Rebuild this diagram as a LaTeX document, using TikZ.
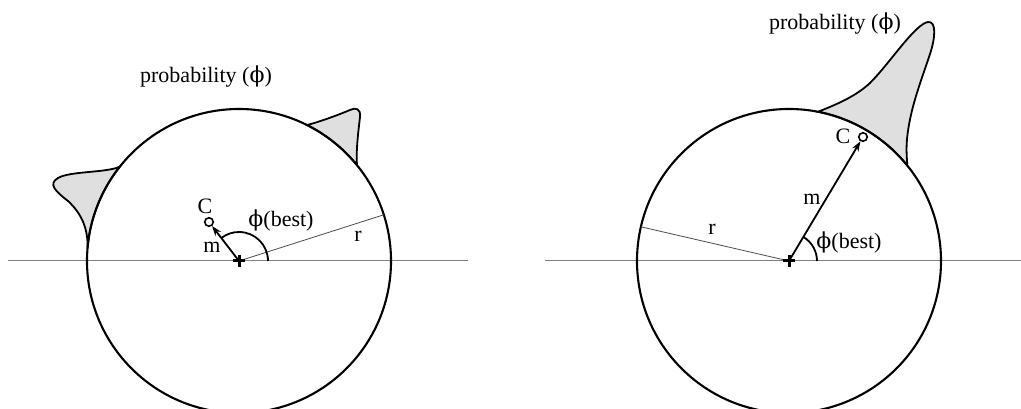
\documentclass[tikz,border=0pt]{standalone}
\usepackage{fontspec}
\setmainfont{Liberation Serif}
\newfontfamily\greekfont{DejaVu Serif}
\usetikzlibrary{arrows.meta,calc}
\newcommand{\phisym}{{\greekfont ϕ}}

\begin{document}
\begin{tikzpicture}[x=1pt, y=1pt, font=\fontsize{22}{26}\selectfont,
  >={Stealth[length=10pt,width=7pt]},
  rim/.style={line width=2.1pt},
  axisline/.style={gray, line width=1pt},
  radline/.style={black!70, line width=0.8pt},
  blob/.style={fill=gray!25, draw=black, line width=1.8pt},
  vec/.style={->, line width=1.8pt},
  anglearc/.style={line width=1.8pt},
  cpt/.style={circle, draw, line width=1.6pt, minimum size=8.5pt, inner sep=0pt, fill=white},
  cross/.style={line width=3pt}]
\useasboundingbox (0,0) rectangle (1021,409);

% left: best direction points inwards
\coordinate (cL) at (239,148);
\filldraw[blob] ($(cL)+(141.7:152)$) .. controls (105,236) and (70,238) .. (58,231)
  .. controls (48,225) and (55,218) .. (68,208) .. controls (82,195) and (88,180) .. ($(cL)+(175:152)$)
  arc[start angle=175, end angle=141.7, radius=152] -- cycle;
\filldraw[blob] ($(cL)+(63.4:152)$) .. controls (322,288) and (338,294) .. (350,299)
  .. controls (356,302) and (361,300) .. (360,292) .. controls (358,275) and (356,258) .. ($(cL)+(39.1:152)$)
  arc[start angle=39.1, end angle=63.4, radius=152] -- cycle;
\draw[axisline] (8,148) -- (468,148);
\draw[rim] (cL) circle[radius=152];
\draw[radline] (cL) -- ($(cL)+(17.7:152)$);
\draw[anglearc] ($(cL)+(29,0)$) arc[start angle=0, end angle=127.6, radius=29];
\node[cpt] (ptL) at (209,187) {};
\draw[vec] (cL) -- (ptL);
\draw[cross] ($(cL)+(-6,0)$) -- ($(cL)+(6,0)$) ($(cL)+(0,-6)$) -- ($(cL)+(0,6)$);
\node (probL) at (206,332) {probability (\phisym)};
\node (lblCL) at (205,203) {C};
\node (lblmL) at (212,162) {m};
\node (lblphiL) at (281,189) {\phisym(best)};
\node (lblrL) at (358,173) {r};

% right: best direction points outwards
\coordinate (cR) at (789,148);
\filldraw[blob] ($(cR)+(79:152)$) .. controls (835,304) and (855,312) .. (870,326)
  .. controls (890,346) and (915,385) .. (928,387) .. controls (937,388) and (935,370) .. (930,355)
  .. controls (920,325) and (910,300) .. (907,270) .. controls (906,258) and (907,250) .. ($(cR)+(38.9:152)$)
  arc[start angle=38.9, end angle=79, radius=152] -- cycle;
\draw[axisline] (545,148) -- (1021,148);
\draw[rim] (cR) circle[radius=152];
\draw[radline] (cR) -- ($(cR)+(167:152)$);
\draw[anglearc] ($(cR)+(28,0)$) arc[start angle=0, end angle=59.2, radius=28];
\node[cpt] (ptR) at (863,272) {};
\draw[vec] (cR) -- (ptR);
\draw[cross] ($(cR)+(-6,0)$) -- ($(cR)+(6,0)$) ($(cR)+(0,-6)$) -- ($(cR)+(0,6)$);
\node (probR) at (835,385) {probability (\phisym)};
\node (lblCR) at (843,273) {C};
\node (lblmR) at (812,210) {m};
\node (lblphiR) at (849,167) {\phisym(best)};
\node (lblrR) at (712,180) {r};
\end{tikzpicture}
\end{document}
